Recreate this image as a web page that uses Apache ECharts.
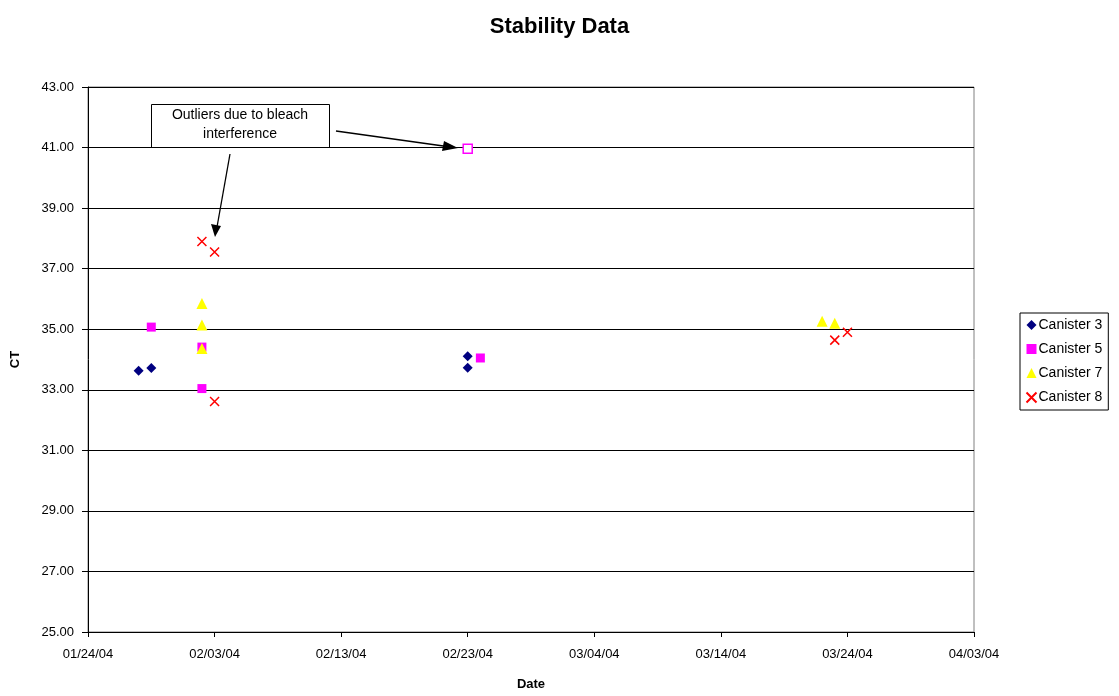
<!DOCTYPE html>
<html style="height:100%">
<head>
    <meta charset="utf-8">
    <title>Stability Data</title>
    <script src="https://cdn.jsdelivr.net/npm/echarts@6/dist/echarts.min.js"></script>
</head>
<body style="height:100%;width:100%;margin:0;background:#fff;overflow:hidden;">
    <div id="main" style="width:1119px;height:696px;margin:0"></div>
    <script type="text/javascript">
        // readings per canister: [date, CT]
        var canister3 = [['2004-01-28', 33.63], ['2004-01-29', 33.72], ['2004-02-23', 34.11], ['2004-02-23', 33.73]];
        var canister5 = [['2004-01-29', 35.07], ['2004-02-02', 34.41], ['2004-02-02', 33.04], ['2004-02-24', 34.05]];
        var canister5Outlier = [['2004-02-23', 40.96]];
        var canister7 = [['2004-02-02', 35.85], ['2004-02-02', 35.14], ['2004-02-02', 34.36], ['2004-03-22', 35.26], ['2004-03-23', 35.2]];
        var canister8 = [['2004-02-02', 37.9], ['2004-02-03', 37.55], ['2004-02-03', 32.61], ['2004-03-23', 34.64], ['2004-03-24', 34.9]];

        var startDate = '2004-01-24';
        var fontName = '"Liberation Sans", Arial, sans-serif';

        function dayNum(s) {
            var p = s.split('-');
            return Date.UTC(+p[0], +p[1] - 1, +p[2]) / 86400000;
        }
        var day0 = dayNum(startDate);
        function toPoints(arr) {
            return arr.map(function (d) { return [dayNum(d[0]) - day0, d[1]]; });
        }
        function fmtDate(v) {
            var d = new Date((day0 + v) * 86400000);
            var mm = ('0' + (d.getUTCMonth() + 1)).slice(-2);
            var dd = ('0' + d.getUTCDate()).slice(-2);
            var yy = ('' + d.getUTCFullYear()).slice(-2);
            return mm + '/' + dd + '/' + yy;
        }

        var crossPath = 'path://M0,0L10,10M10,0L0,10';

        var myChart = echarts.init(document.getElementById('main'));
        myChart.setOption({
            animation: false,
            textStyle: { fontFamily: fontName },
            title: {
                text: 'Stability Data',
                left: 'center',
                top: 11,
                textStyle: { fontFamily: fontName, fontSize: 22, fontWeight: 'bold', color: '#000' }
            },
            legend: {
                orient: 'vertical',
                left: 1020,
                top: 313,
                itemWidth: 10,
                itemHeight: 10,
                itemGap: 10,
                padding: [5, 6, 5, 4],
                borderColor: '#000',
                borderWidth: 1,
                textStyle: { fontFamily: fontName, fontSize: 14, color: '#000', padding: [0, 0, 0, -3] },
                data: ['Canister 3', 'Canister 5', 'Canister 7', 'Canister 8']
            },
            grid: { left: 88, width: 886, top: 87, height: 551, show: true, borderColor: '#808080', borderWidth: 1 },
            xAxis: {
                type: 'value',
                min: 0, max: 70, interval: 10,
                name: 'Date',
                nameLocation: 'middle',
                nameGap: 46,
                nameTextStyle: { fontFamily: fontName, fontSize: 13, fontWeight: 'bold', color: '#000' },
                axisLine: { lineStyle: { color: '#000', width: 1 } },
                axisTick: { show: true, length: 5, lineStyle: { color: '#000' } },
                axisLabel: { formatter: fmtDate, fontSize: 13, color: '#000', margin: 16 },
                splitLine: { show: false }
            },
            yAxis: {
                type: 'value',
                min: 25, max: 43, interval: 2,
                name: 'CT',
                nameLocation: 'middle',
                nameGap: 66,
                nameRotate: 90,
                nameTextStyle: { fontFamily: fontName, fontSize: 13, fontWeight: 'bold', color: '#000' },
                axisLine: { show: true, lineStyle: { color: '#000', width: 1 } },
                axisTick: { show: true, length: 6, lineStyle: { color: '#000' } },
                axisLabel: { formatter: function (v) { return v.toFixed(2); }, fontSize: 13, color: '#000', margin: 14 },
                splitLine: { show: true, lineStyle: { color: '#000', width: 1 } }
            },
            series: [
                {
                    name: 'Canister 3', type: 'scatter',
                    symbol: 'diamond', symbolSize: 10,
                    itemStyle: { color: '#000080', opacity: 1 },
                    data: toPoints(canister3)
                },
                {
                    name: 'Canister 5', type: 'scatter',
                    symbol: 'rect', symbolSize: 9,
                    itemStyle: { color: '#ff00ff', opacity: 1 },
                    data: toPoints(canister5).concat(toPoints(canister5Outlier).map(function (p) {
                        return { value: p, itemStyle: { color: '#fff', borderColor: '#ff00ff', borderWidth: 1.5, opacity: 1 } };
                    }))
                },
                {
                    name: 'Canister 7', type: 'scatter',
                    symbol: 'triangle', symbolSize: 11,
                    itemStyle: { color: '#ffff00', opacity: 1 },
                    data: toPoints(canister7)
                },
                {
                    name: 'Canister 8', type: 'scatter',
                    symbol: crossPath, symbolSize: 9,
                    itemStyle: { color: 'none', borderColor: '#ff0000', borderWidth: 1.5, opacity: 1 },
                    data: toPoints(canister8)
                }
            ],
            graphic: [
                {
                    type: 'rect',
                    shape: { x: 151.5, y: 104.5, width: 178, height: 43 },
                    style: { fill: '#fff', stroke: '#000', lineWidth: 1 }
                },
                {
                    type: 'text',
                    x: 240, y: 106,
                    style: {
                        text: 'Outliers due to bleach\ninterference',
                        font: '14px ' + fontName,
                        fill: '#000',
                        align: 'center',
                        lineHeight: 19
                    }
                },
                {
                    type: 'line',
                    shape: { x1: 336, y1: 131, x2: 447, y2: 146.5 },
                    style: { stroke: '#000', lineWidth: 1.3 }
                },
                {
                    type: 'polygon',
                    shape: { points: [[458, 148], [444, 141], [442, 151]] },
                    style: { fill: '#000' }
                },
                {
                    type: 'line',
                    shape: { x1: 230, y1: 154, x2: 217, y2: 227 },
                    style: { stroke: '#000', lineWidth: 1.3 }
                },
                {
                    type: 'polygon',
                    shape: { points: [[215, 237], [211, 224], [221, 226]] },
                    style: { fill: '#000' }
                }
            ]
        });
    </script>
</body>
</html>
